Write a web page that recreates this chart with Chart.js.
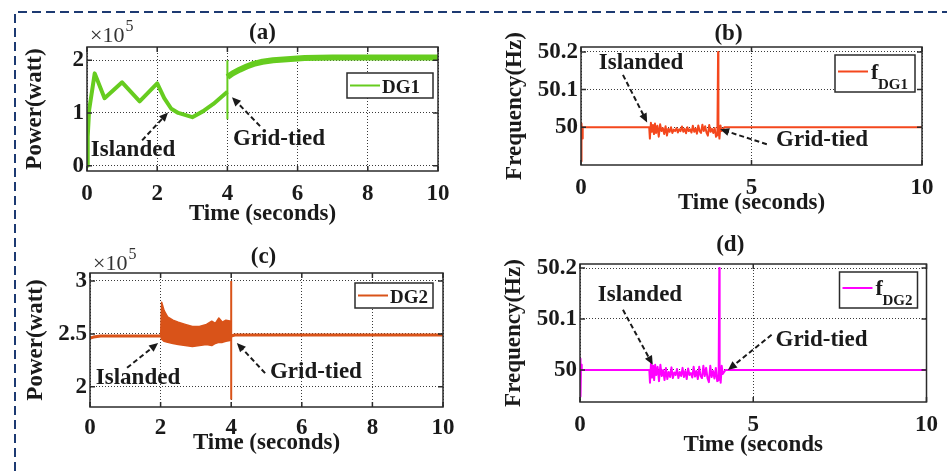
<!DOCTYPE html>
<html>
<head>
<meta charset="utf-8">
<script src="https://cdn.jsdelivr.net/npm/chart.js@4.4.0/dist/chart.umd.min.js"></script>
<style>
  body { margin: 0; background: #fff; width: 947px; height: 471px; overflow: hidden; position: relative; }
  canvas { position: absolute; }
  svg { position: absolute; left: 0; top: 0; }
</style>
</head>
<body>
<svg width="947" height="471"><path d="M15 471 V12 H947" fill="none" stroke="#1d3a72" stroke-width="2" stroke-dasharray="9 5"/></svg>
<canvas id="chart-a" width="470" height="235" style="left:0;top:0"></canvas>
<canvas id="chart-b" width="477" height="235" style="left:470px;top:0"></canvas>
<canvas id="chart-c" width="470" height="236" style="left:0;top:235px"></canvas>
<canvas id="chart-d" width="477" height="236" style="left:470px;top:235px"></canvas>
<script>
// power values are in units of 1e5 W, as on the original axes
const DG1_TIME = [0, 0.02, 0.06, 0.22, 0.5, 1.0, 1.5, 2.0, 2.2, 2.4, 2.6, 3.0, 3.3, 3.6, 4.0];
const DG1_POWER = [0, 0.55, 1.05, 1.75, 1.28, 1.58, 1.22, 1.56, 1.28, 1.08, 1.0, 0.92, 1.03, 1.17, 1.40];
const DG1_GRID_TIME = [4.0, 4.15, 4.35, 4.55, 4.75, 5.0, 5.3, 5.7, 6.2, 7.0, 8.0, 9.0, 10.0];
const DG1_GRID_POWER = [1.68, 1.75, 1.82, 1.88, 1.93, 1.97, 2.0, 2.02, 2.04, 2.05, 2.05, 2.05, 2.05];
const DG1_SWITCH_TIME = [4.0, 4.0];
const DG1_SWITCH_POWER = [0.88, 2.0];

const DG2_TIME = [0, 0.1, 0.3, 0.6, 1.0, 1.5, 2.0];
const DG2_POWER = [2.46, 2.47, 2.48, 2.48, 2.48, 2.48, 2.48];
const DG2_ISLAND_TIME = [2.0, 2.03, 2.1, 2.2, 2.35, 2.5, 2.7, 2.9, 3.1, 3.3, 3.45, 3.55, 3.65, 3.75, 3.85, 4.0];
const DG2_ISLAND_UPPER = [2.48, 2.80, 2.72, 2.66, 2.63, 2.61, 2.59, 2.57, 2.57, 2.59, 2.62, 2.60, 2.65, 2.61, 2.63, 2.62];
const DG2_ISLAND_LOWER = [2.48, 2.45, 2.43, 2.42, 2.41, 2.40, 2.39, 2.38, 2.39, 2.40, 2.39, 2.41, 2.42, 2.42, 2.43, 2.44];
const DG2_GRID_TIME = [4.0, 4.1, 5, 6, 7, 8, 9, 10];
const DG2_GRID_POWER = [2.48, 2.49, 2.49, 2.49, 2.49, 2.49, 2.49, 2.49];
const DG2_SWITCH_TIME = [4.0, 4.0];
const DG2_SWITCH_POWER = [1.88, 3.0];

const FREQ_TIME = [
  0, 0.01, 0.02, 0.03, 0.05, 0.08, 1.0, 1.98, 2.0, 2.02,
  2.05, 2.08, 2.11, 2.14, 2.17, 2.2, 2.24, 2.28, 2.32, 2.36,
  2.4, 2.44, 2.48, 2.52, 2.56, 2.6, 2.64, 2.68, 2.72, 2.76,
  2.8, 2.84, 2.88, 2.92, 2.96, 3.0, 3.04, 3.08, 3.12, 3.16,
  3.2, 3.24, 3.28, 3.32, 3.36, 3.4, 3.44, 3.48, 3.52, 3.56,
  3.6, 3.64, 3.68, 3.72, 3.76, 3.8, 3.84, 3.88, 3.92, 3.96,
  4.0, 4.02, 4.03, 4.06, 4.09, 4.12, 4.2, 5.0, 7.0, 10.0,
];
const F_DG1 = [
  50.0, 49.91, 50.01, 49.97, 50.0, 50.0, 50.0, 50.0, 50.0, 49.97,
  50.012, 49.988, 50.006, 49.982, 50.01, 49.985, 50.004, 49.975, 50.008, 49.99,
  49.998, 49.982, 50.003, 49.978, 49.996, 49.988, 50.0, 49.985, 49.994, 49.99,
  49.998, 49.986, 49.995, 49.99, 50.002, 49.988, 49.996, 49.984, 50.0, 49.99,
  49.995, 49.986, 50.004, 49.988, 49.997, 49.983, 50.005, 49.99, 49.985, 50.007,
  49.99, 50.003, 49.986, 49.978, 50.006, 49.988, 49.996, 49.985, 49.998, 49.975,
  49.98, 50.2, 50.0, 49.97, 50.005, 49.99, 50.0, 50.0, 50.0, 50.0,
];
const F_DG2 = [
  50.0, 50.022, 49.948, 50.01, 50.0, 50.0, 50.0, 50.0, 50.0, 49.975,
  50.015, 49.985, 50.008, 49.98, 50.01, 49.99, 50.006, 49.978, 50.01, 49.988,
  50.0, 49.98, 50.004, 49.982, 49.996, 49.986, 50.005, 49.984, 49.995, 49.99,
  50.002, 49.984, 49.996, 49.988, 50.004, 49.986, 49.998, 49.982, 50.003, 49.99,
  49.994, 49.985, 50.006, 49.987, 49.998, 49.982, 50.006, 49.988, 49.984, 50.008,
  49.988, 50.004, 49.984, 49.976, 50.008, 49.986, 49.998, 49.983, 50.004, 49.978,
  49.98, 50.2, 50.0, 49.975, 50.008, 49.992, 50.0, 50.0, 50.0, 50.0,
];

const POWER_X_TICKS = [0, 2, 4, 6, 8, 10];
const FREQ_X_TICKS = [0, 5, 10];
const DG1_Y_TICKS = [0, 1, 2];
const DG2_Y_TICKS = [2, 2.5, 3];
const FREQ_Y_TICKS = [50, 50.1, 50.2];

const INK = '#1a1a1a';
const GRID_COLOR = '#3a3a3a';
const SERIF = '"Liberation Serif", "Times New Roman", serif';
const TICK_FONT = { family: SERIF, size: 23, weight: 'bold' };

const GREEN = '#66cc1f';
const ORANGE = '#d95319';
const RED = '#f4471d';
const MAGENTA = '#ff00ff';

function points(xs, ys) {
  return xs.map((t, i) => ({ x: t, y: ys[i] }));
}

function line(data, color, width, extra = {}) {
  return {
    data,
    borderColor: color,
    backgroundColor: color,
    borderWidth: width,
    pointRadius: 0,
    tension: 0,
    fill: false,
    borderJoinStyle: 'round',
    ...extra,
  };
}

function drawArrow(ctx, x1, y1, x2, y2) {
  const ang = Math.atan2(y2 - y1, x2 - x1);
  const head = 9;
  ctx.save();
  ctx.strokeStyle = INK;
  ctx.fillStyle = INK;
  ctx.lineWidth = 2;
  ctx.setLineDash([5, 3]);
  ctx.beginPath();
  ctx.moveTo(x1, y1);
  ctx.lineTo(x2 - Math.cos(ang) * head * 0.8, y2 - Math.sin(ang) * head * 0.8);
  ctx.stroke();
  ctx.setLineDash([]);
  ctx.beginPath();
  ctx.moveTo(x2, y2);
  ctx.lineTo(x2 - head * Math.cos(ang) + 4 * Math.sin(ang), y2 - head * Math.sin(ang) - 4 * Math.cos(ang));
  ctx.lineTo(x2 - head * Math.cos(ang) - 4 * Math.sin(ang), y2 - head * Math.sin(ang) + 4 * Math.cos(ang));
  ctx.closePath();
  ctx.fill();
  ctx.restore();
}

// frame, inward ticks, annotations, legend box, panel letter and exponent
const panelDecor = {
  id: 'panelDecor',
  afterDatasetsDraw(chart, args, opts) {
    const { ctx, chartArea: a, scales: { x, y } } = chart;
    ctx.save();

    ctx.strokeStyle = '#2b2b2b';
    ctx.lineWidth = 1.5;
    ctx.strokeRect(a.left, a.top, a.width, a.height);
    ctx.beginPath();
    x.ticks.forEach(t => {
      const px = x.getPixelForValue(t.value);
      ctx.moveTo(px, a.bottom); ctx.lineTo(px, a.bottom - 5);
      ctx.moveTo(px, a.top); ctx.lineTo(px, a.top + 5);
    });
    y.ticks.forEach(t => {
      const py = y.getPixelForValue(t.value);
      ctx.moveTo(a.left, py); ctx.lineTo(a.left + 5, py);
      ctx.moveTo(a.right, py); ctx.lineTo(a.right - 5, py);
    });
    ctx.stroke();

    ctx.fillStyle = INK;
    ctx.font = `bold 23px ${SERIF}`;
    ctx.textAlign = 'center';
    ctx.textBaseline = 'middle';
    for (const n of opts.notes) {
      ctx.fillText(n.text, x.getPixelForValue(n.at[0]), y.getPixelForValue(n.at[1]));
      drawArrow(ctx,
        x.getPixelForValue(n.from[0]), y.getPixelForValue(n.from[1]),
        x.getPixelForValue(n.to[0]), y.getPixelForValue(n.to[1]));
    }

    const lg = opts.legend;
    const bx = a.right - lg.inset[0] - lg.size[0];
    const by = a.top + lg.inset[1];
    ctx.fillStyle = '#fff';
    ctx.fillRect(bx, by, lg.size[0], lg.size[1]);
    ctx.strokeStyle = '#2b2b2b';
    ctx.lineWidth = 1.5;
    ctx.strokeRect(bx, by, lg.size[0], lg.size[1]);
    const my = by + lg.size[1] / 2 - (lg.sub ? 2 : 0);
    ctx.strokeStyle = lg.color;
    ctx.lineWidth = 2;
    ctx.beginPath();
    ctx.moveTo(bx + 3, my);
    ctx.lineTo(bx + 33, my);
    ctx.stroke();
    ctx.fillStyle = INK;
    ctx.textAlign = 'left';
    ctx.textBaseline = 'alphabetic';
    if (lg.sub) {
      ctx.font = `bold 22px ${SERIF}`;
      ctx.fillText(lg.label, bx + 36, my + 7);
      ctx.font = `bold 15px ${SERIF}`;
      ctx.fillText(lg.sub, bx + 43, my + 17);
    } else {
      ctx.font = `bold 19px ${SERIF}`;
      ctx.fillText(lg.label, bx + 35, my + 7);
    }

    ctx.font = `bold 23px ${SERIF}`;
    ctx.textAlign = 'center';
    ctx.textBaseline = 'middle';
    ctx.fillText(opts.title.text, (a.left + a.right) / 2 + opts.title.dx, opts.title.y);

    if (opts.exponent) {
      const [ex, ey] = opts.exponent;
      ctx.textAlign = 'left';
      ctx.textBaseline = 'alphabetic';
      ctx.fillStyle = '#333';
      ctx.font = `22px ${SERIF}`;
      ctx.fillText('\u00d710', ex, ey);
      const w = ctx.measureText('\u00d710').width;
      ctx.font = `16px ${SERIF}`;
      ctx.fillText('5', ex + w + 1, ey - 11);
    }
    ctx.restore();
  },
};

function makePanel(id, cfg) {
  return new Chart(document.getElementById(id), {
    type: 'line',
    data: { datasets: cfg.datasets },
    options: {
      animation: false,
      responsive: false,
      events: [],
      layout: { padding: cfg.padding },
      plugins: {
        legend: { display: false },
        tooltip: { enabled: false },
        panelDecor: cfg.decor,
      },
      scales: {
        x: {
          type: 'linear', min: 0, max: 10,
          afterBuildTicks: s => { s.ticks = cfg.xTicks.map(v => ({ value: v })); },
          afterFit: s => { s.height = cfg.xHeight; },
          grid: { color: GRID_COLOR, lineWidth: 1, drawTicks: false },
          border: { display: false, dash: [1, 2] },
          ticks: { color: INK, font: TICK_FONT, padding: cfg.xTickPad, maxRotation: 0, autoSkip: false, callback: v => String(v) },
          title: { display: true, text: cfg.xTitle, color: INK, font: TICK_FONT, padding: 0 },
        },
        y: {
          type: 'linear', min: cfg.yRange[0], max: cfg.yRange[1],
          afterBuildTicks: s => { s.ticks = cfg.yTicks.map(v => ({ value: v })); },
          afterFit: s => { s.width = cfg.yWidth; },
          grid: { color: GRID_COLOR, lineWidth: 1, drawTicks: false },
          border: { display: false, dash: [1, 2] },
          ticks: { color: INK, font: TICK_FONT, padding: 3, callback: v => String(v) },
          title: { display: true, text: cfg.yTitle, color: INK, font: TICK_FONT, padding: 0 },
        },
      },
    },
    plugins: [panelDecor],
  });
}

makePanel('chart-a', {
  padding: { left: 21, top: 47, right: 32, bottom: 7 },
  yWidth: 66, xHeight: 57, xTickPad: 9,
  xTicks: POWER_X_TICKS, yTicks: DG1_Y_TICKS, yRange: [-0.1, 2.25],
  xTitle: 'Time (seconds)', yTitle: 'Power(watt)',
  datasets: [
    line(points(DG1_TIME, DG1_POWER), GREEN, 4),
    line(points(DG1_GRID_TIME, DG1_GRID_POWER), GREEN, 6),
    line(points(DG1_SWITCH_TIME, DG1_SWITCH_POWER), GREEN, 2),
  ],
  decor: {
    title: { text: '(a)', dx: 0, y: 33 },
    exponent: [90, 42],
    legend: { label: 'DG1', color: GREEN, inset: [5, 26], size: [86, 25] },
    notes: [
      { text: 'Islanded', at: [1.31, 0.29], from: [1.57, 0.48], to: [2.31, 1.01] },
      { text: 'Grid-tied', at: [5.47, 0.5], from: [4.93, 0.75], to: [4.13, 1.3] },
    ],
  },
});

makePanel('chart-b', {
  padding: { left: 31, top: 47, right: 25, bottom: 18 },
  yWidth: 80, xHeight: 52, xTickPad: 9,
  xTicks: FREQ_X_TICKS, yTicks: FREQ_Y_TICKS, yRange: [49.9, 50.213],
  xTitle: 'Time (seconds)', yTitle: 'Frequency(Hz)',
  datasets: [
    line(points(FREQ_TIME, F_DG1), RED, 2),
  ],
  decor: {
    title: { text: '(b)', dx: -23, y: 34 },
    legend: { label: 'f', sub: 'DG1', color: RED, inset: [7, 8], size: [80, 37] },
    notes: [
      { text: 'Islanded', at: [1.76, 50.171], from: [1.23, 50.139], to: [1.94, 50.013] },
      { text: 'Grid-tied', at: [7.07, 49.965], from: [5.45, 49.955], to: [4.08, 49.995] },
    ],
  },
});

makePanel('chart-c', {
  padding: { left: 22, top: 38, right: 27, bottom: 14 },
  yWidth: 68, xHeight: 50, xTickPad: 7,
  xTicks: POWER_X_TICKS, yTicks: DG2_Y_TICKS, yRange: [1.81, 3.075],
  xTitle: 'Time (seconds)', yTitle: 'Power(watt)',
  datasets: [
    line(points(DG2_TIME, DG2_POWER), ORANGE, 3),
    line(points(DG2_ISLAND_TIME, DG2_ISLAND_UPPER), ORANGE, 1.5, { fill: '+1' }),
    line(points(DG2_ISLAND_TIME, DG2_ISLAND_LOWER), ORANGE, 1.5),
    line(points(DG2_GRID_TIME, DG2_GRID_POWER), ORANGE, 3),
    line(points(DG2_SWITCH_TIME, DG2_SWITCH_POWER), ORANGE, 2),
  ],
  decor: {
    title: { text: '(c)', dx: -3, y: 22 },
    exponent: [93, 35],
    legend: { label: 'DG2', color: ORANGE, inset: [10, 10], size: [78, 25] },
    notes: [
      { text: 'Islanded', at: [1.36, 2.085], from: [1.05, 2.18], to: [1.93, 2.415] },
      { text: 'Grid-tied', at: [6.4, 2.14], from: [4.96, 2.13], to: [4.16, 2.415] },
    ],
  },
});

makePanel('chart-d', {
  padding: { left: 30, top: 29, right: 20, bottom: 12 },
  yWidth: 80, xHeight: 57, xTickPad: 9,
  xTicks: FREQ_X_TICKS, yTicks: FREQ_Y_TICKS, yRange: [49.937, 50.208],
  xTitle: 'Time (seconds', yTitle: 'Frequency(Hz)',
  datasets: [
    line(points(FREQ_TIME, F_DG2), MAGENTA, 2),
  ],
  decor: {
    title: { text: '(d)', dx: -23, y: 10 },
    legend: { label: 'f', sub: 'DG2', color: MAGENTA, inset: [9, 8], size: [78, 36] },
    notes: [
      { text: 'Islanded', at: [1.73, 50.147], from: [1.24, 50.118], to: [2.1, 50.01] },
      { text: 'Grid-tied', at: [6.97, 50.059], from: [5.53, 50.069], to: [4.27, 50.0] },
    ],
  },
});
</script>
</body>
</html>
